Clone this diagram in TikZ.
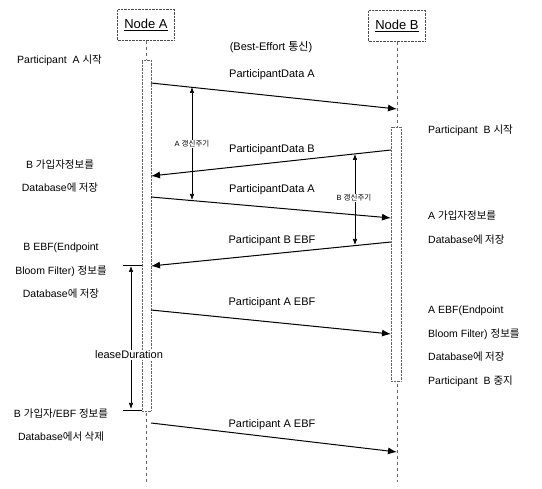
\documentclass[tikz,border=0pt]{standalone}
\usepackage{fontspec}
\setmainfont{Liberation Sans}
\newfontfamily\krfont{Noto Sans CJK KR}
\newcommand{\K}[1]{{\krfont #1}}
\usetikzlibrary{arrows.meta}
\begin{document}
\begin{tikzpicture}[x=1pt,y=-1pt,
  lbl/.style={font=\fontsize{11}{12}\selectfont, inner sep=1pt},
  side/.style={font=\fontsize{10.5}{23.5}\selectfont, align=center, inner sep=0pt},
  rside/.style={font=\fontsize{10.5}{23.5}\selectfont, align=left, anchor=north west, inner sep=0pt},
  small/.style={font=\fontsize{7.5}{9}\selectfont, fill=white, inner sep=1pt},
  head/.style={draw=black!70, densely dotted, minimum width=57pt, minimum height=31pt, font=\fontsize{13}{15}\selectfont},
  life/.style={draw=black!60, dashed, thin},
  bar/.style={draw=black!60, densely dotted, fill=white},
  msg/.style={-{Latex[length=9pt,width=7pt]}, line width=1pt},
  dim/.style={{Latex[length=6pt,width=4.5pt]}-{Latex[length=6pt,width=4.5pt]}, line width=0.6pt}
]
\useasboundingbox (0,0) rectangle (542,489);
\fill[white] (0,0) rectangle (542,489);
% heads
\node[head] (na) at (146,25) {\underline{Node A}};
\node[head] (nb) at (397,26) {\underline{Node B}};
\coordinate (aend) at (146,482);
\coordinate (bend) at (397,482);
\draw[life] (na.south) -- (aend);
\draw[life] (nb.south) -- (bend);
% activation bars
\node[bar, minimum width=9pt, minimum height=351pt, inner sep=0pt] (ba) at (146.5,235.5) {};
\node[bar, minimum width=10pt, minimum height=254pt, inner sep=0pt] (bb) at (396,254) {};
% message endpoints
\coordinate (m1s) at (151,83);  \coordinate (m1e) at (397,109);
\coordinate (m2s) at (391,150); \coordinate (m2e) at (151,176);
\coordinate (m3s) at (151,197); \coordinate (m3e) at (391,218);
\coordinate (m4s) at (391,242); \coordinate (m4e) at (151,266);
\coordinate (m5s) at (151,310); \coordinate (m5e) at (391,334);
\coordinate (m6s) at (151,423); \coordinate (m6e) at (397,452);
\draw[msg] (m1s) -- (m1e);
\draw[msg] (m2s) -- (m2e);
\draw[msg] (m3s) -- (m3e);
\draw[msg] (m4s) -- (m4e);
\draw[msg] (m5s) -- (m5e);
\draw[msg] (m6s) -- (m6e);
% message labels
\node[lbl] (t0) at (271,47) {(Best-Effort \K{통신})};
\node[lbl] (t1) at (272,75) {ParticipantData A};
\node[lbl, fill=white] (t2) at (272,150) {ParticipantData B};
\node[lbl] (t3) at (272,190) {ParticipantData A};
\node[lbl, fill=white] (t4) at (272,241) {Participant B EBF};
\node[lbl] (t5) at (272,303) {Participant A EBF};
\node[lbl] (t6) at (272,425) {Participant A EBF};
% A refresh period
\coordinate (ra1) at (192,87); \coordinate (ra2) at (192,200);
\draw[dim] (ra1) -- (ra2);
\node[small] (ra) at (192,144) {A \K{갱신주기}};
% B refresh period
\coordinate (rb1) at (355,154); \coordinate (rb2) at (355,245);
\draw[dim] (rb1) -- (rb2);
\node[small] (rb) at (354,198) {B \K{갱신주기}};
% leaseDuration
\coordinate (l1a) at (123,265); \coordinate (l1b) at (142,265);
\coordinate (l2a) at (123,410); \coordinate (l2b) at (142,410);
\draw[line width=0.6pt] (l1a) -- (l1b);
\draw[line width=0.6pt] (l2a) -- (l2b);
\coordinate (ld1) at (131,266); \coordinate (ld2) at (131,409);
\draw[dim] (ld1) -- (ld2);
\node[lbl, fill=white] (ld) at (129,355) {leaseDuration};
% left side texts
\node[side, anchor=west] (la1) at (17,60) {Participant\ \ A \K{시작}};
\node[side] (la2) at (60,176) {B \K{가입자정보를}\\Database\K{에 저장}};
\node[side] (la3) at (61,271) {B EBF(Endpoint\\Bloom Filter) \K{정보를}\\Database\K{에 저장}};
\node[side] (la4) at (61,425) {B \K{가입자}/EBF \K{정보를}\\Database\K{에서 삭제}};
% right side texts
\node[side, anchor=west] (rb0) at (428,130) {Participant\ \ B \K{시작}};
\node[rside] (ra2t) at (428,211) {A \K{가입자정보를}\\Database\K{에 저장}};
\node[rside] (ra3t) at (428,306) {A EBF(Endpoint\\Bloom Filter) \K{정보를}\\Database\K{에 저장}};
\node[side, anchor=west] (rb4) at (428,381) {Participant\ \ B \K{중지}};
\end{tikzpicture}
\end{document}
